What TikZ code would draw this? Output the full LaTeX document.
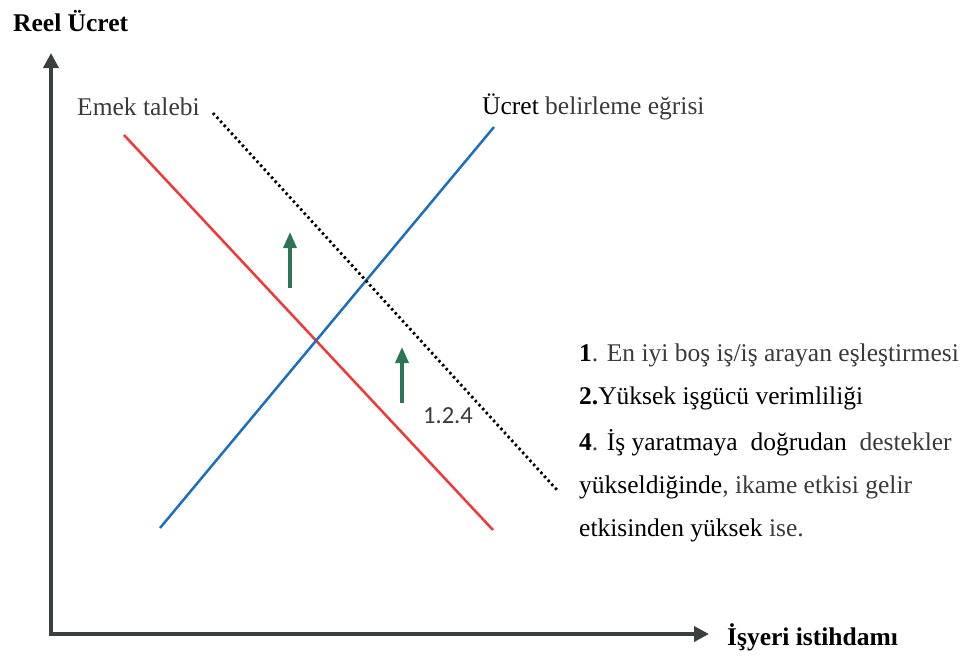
\documentclass[tikz,border=0pt]{standalone}
\usepackage{fontspec}
\setmainfont{Liberation Serif}
\newfontfamily\labsans{Carlito}
\usetikzlibrary{arrows.meta}
\definecolor{axisgray}{HTML}{3A3F3F}
\definecolor{redline}{HTML}{F0373A}
\definecolor{blueline}{HTML}{1C6FC0}
\definecolor{greenarrow}{HTML}{2E7558}
\definecolor{txtgray}{HTML}{3A3A3A}
\tikzset{
  axisarrow/.style={axisgray, line width=3.6pt, -{Triangle[width=15pt,length=15pt]}},
  shiftarrow/.style={greenarrow, line width=3.2pt, -{Triangle[width=13pt,length=16pt]}},
  lbl/.style={inner sep=0pt, font=\fontsize{25.5}{30}\selectfont, text=txtgray},
  listline/.style={lbl, anchor=west},
}
\begin{document}
\begin{tikzpicture}[x=1pt,y=-1pt]
\useasboundingbox (0,0) rectangle (964,657);
% axes
\coordinate (O) at (51,634);
\coordinate (ytop) at (51,53);
\coordinate (xend) at (709,634);
\draw[axisarrow] ([yshift=-1.8pt]O) -- (ytop);
\draw[axisarrow] ([xshift=-1.8pt]O) -- (xend);
\node[lbl, text=black, font=\fontsize{25.5}{30}\selectfont\bfseries, anchor=west] (ylab) at (13,21) {Reel Ücret};
\node[lbl, text=black, font=\fontsize{25.5}{30}\selectfont\bfseries, anchor=west] (xlab) at (727,637) {İşyeri istihdamı};
% curves
\coordinate (r1) at (124,135); \coordinate (r2) at (493,530);
\coordinate (b1) at (160,528); \coordinate (b2) at (494,127);
\coordinate (d1) at (213,113); \coordinate (d2) at (557,490);
\draw[redline, line width=2.5pt] (r1) -- (r2);
\draw[blueline, line width=2.5pt] (b1) -- (b2);
\draw[black, line width=2.8pt, dash pattern=on 2.4pt off 3pt] (d1) -- (d2);
% labels
\node[lbl, anchor=west] (emek) at (77,107) {Emek talebi};
\node[lbl, anchor=west] (ucret) at (482,107) {{\color{black}Ücret} belirleme eğrisi};
% shift arrows
\coordinate (g1a) at (290,288); \coordinate (g1b) at (290,232);
\coordinate (g2a) at (402,403); \coordinate (g2b) at (402,347);
\draw[shiftarrow] (g1a) -- (g1b);
\draw[shiftarrow] (g2a) -- (g2b);
\node[lbl, font=\labsans\fontsize{24.5}{28}\selectfont, anchor=west] (num) at (423,416) {1.2.4};
% list
\node[listline] (l1) at (579,355) {{\color{black}\bfseries 1}. En iyi boş iş/iş arayan eşleştirmesi};
\node[listline] (l2) at (579,398) {{\color{black}\bfseries 2.}{\color{black}Yüksek işgücü verimliliği}};
\node[listline] (l3) at (579,443) {{\color{black}\bfseries 4}. {\color{black}İş yaratmaya\ \ doğrudan}\ \ destekler};
\node[listline] (l4) at (579,487) {{\color{black}yükseldiğinde}, ikame etkisi gelir};
\node[listline] (l5) at (579,530) {{\color{black}etkisinden yüksek} ise.};
\end{tikzpicture}
\end{document}
